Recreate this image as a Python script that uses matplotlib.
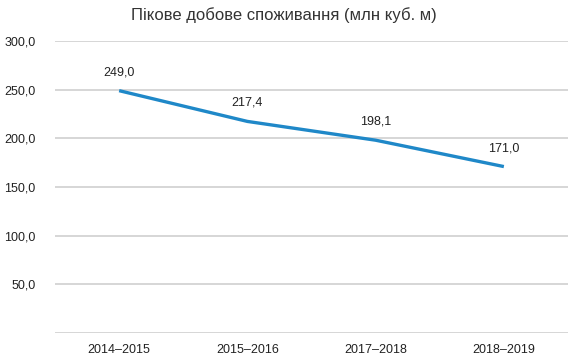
import matplotlib.pyplot as plt

seasons = ["2014–2015", "2015–2016", "2017–2018", "2018–2019"]
peak = [249.0, 217.4, 198.1, 171.0]
yticks = [0, 50, 100, 150, 200, 250, 300]

plt.rcParams["font.family"] = ["Liberation Sans", "DejaVu Sans"]

fig = plt.figure(figsize=(5.79, 3.63), dpi=100)
ax = fig.add_axes([0.095, 0.0826, 0.886, 0.8044])

x = list(range(len(seasons)))
ax.plot(x, peak, color="#1f88c8", linewidth=2.4, solid_capstyle="butt", zorder=3)

for xi, v in zip(x, peak):
    ax.annotate(f"{v:.1f}".replace(".", ","), (xi, v), xytext=(0, 9),
                textcoords="offset points", ha="center", va="bottom",
                fontsize=9, color="#222222")

ax.set_xlim(-0.5, len(seasons) - 0.5)
ax.set_ylim(0, 300)
ax.set_yticks(yticks)
ax.set_yticklabels(["" if t == 0 else f"{t:.1f}".replace(".", ",") for t in yticks])
ax.set_xticks(x)
ax.set_xticklabels(seasons)
ax.tick_params(axis="both", length=0, labelsize=9, colors="#222222")
ax.tick_params(axis="y", pad=14)
ax.tick_params(axis="x", pad=8)
ax.grid(axis="y", color="#cfcfcf", linewidth=1.2)
ax.set_axisbelow(True)
for s in ax.spines.values():
    s.set_visible(False)

fig.text(0.49, 0.958, "Пікове добове споживання (млн куб. м)", ha="center", va="center",
         fontsize=12, color="#333333")

fig.savefig("out.png", dpi=100)
